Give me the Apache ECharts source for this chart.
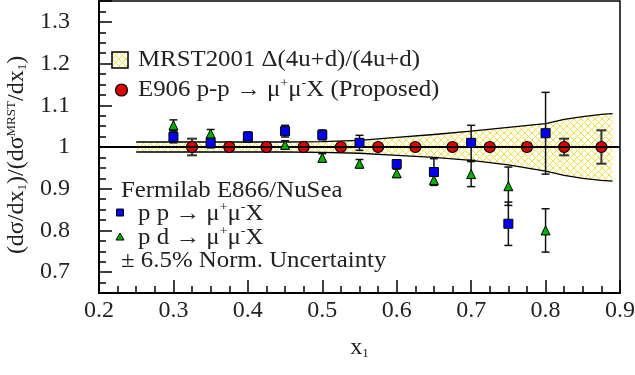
<!DOCTYPE html>
<html><head><meta charset="utf-8">
<script src="https://cdn.jsdelivr.net/npm/echarts@6/dist/echarts.min.js"></script>
<style>html,body{margin:0;padding:0;background:#fff}#c{width:635px;height:375px}</style>
</head><body><div id="c"></div>
<script>
// MRST2001 uncertainty band
const bandX     = [0.25, 0.30, 0.35, 0.40, 0.45, 0.50, 0.55, 0.60, 0.65, 0.70, 0.75, 0.80, 0.825, 0.85, 0.875, 0.89];
const bandUpper = [1.012,1.012,1.012,1.012,1.012,1.013,1.016,1.023,1.030,1.038,1.047,1.056,1.066,1.073,1.078,1.080];
const bandLower = [0.988,0.988,0.988,0.988,0.988,0.987,0.985,0.980,0.975,0.968,0.957,0.942,0.932,0.925,0.920,0.918];
// reference line
const refX = [0.2, 0.9];
const refY = [1, 1];
// E906 proposed
const e906X   = [0.325,0.375,0.425,0.475,0.525,0.575,0.625,0.675,0.725,0.775,0.825,0.875];
const e906Y   = [1,1,1,1,1,1,1,1,1,1,1,1];
const e906Err = [0.02,0.006,0.006,0.006,0.006,0.006,0.006,0.006,0.006,0.008,0.02,0.04];
// E866 p p
const ppX   = [0.30,0.35,0.40,0.45,0.50,0.55,0.60,0.65,0.70,0.75,0.80];
const ppY   = [1.024,1.010,1.025,1.038,1.029,1.010,0.959,0.940,1.010,0.816,1.033];
const ppErr = [0.014,0.012,0.011,0.014,0.012,0.018,0.010,0.032,0.042,0.052,0.098];
// E866 p d
const pdX   = [0.30,0.35,0.40,0.45,0.50,0.55,0.60,0.65,0.70,0.75,0.80];
const pdY   = [1.052,1.032,1.022,1.005,0.974,0.960,0.937,0.921,0.935,0.906,0.800];
const pdErr = [0.013,0.010,0.010,0.010,0.010,0.010,0.010,0.012,0.030,0.046,0.052];
// axes
const xMin = 0.2, xMax = 0.9, xStep = 0.1;
const yMin = 0.65, yMax = 1.35, yStep = 0.1, yMinorStep = 0.025;

const FONT = "'Liberation Serif', 'Times New Roman', serif";
const TXT = '#222';

function makeHatch(){
  const s = 7;
  const c = document.createElement('canvas'); c.width = s; c.height = s;
  const g = c.getContext('2d');
  g.fillStyle = '#fffff6'; g.fillRect(0,0,s,s);
  g.strokeStyle = '#eedd55'; g.lineWidth = 1;
  g.beginPath(); g.moveTo(0,0); g.lineTo(s,s); g.moveTo(s,0); g.lineTo(0,s); g.stroke();
  return c;
}
const hatch = makeHatch();

function errSeries(xs, ys, es, cap, color, lw, z){
  return {
    type:'custom', silent:true, z:z, yAxisIndex:0,
    data: xs.map((x,i)=>[x, ys[i]-es[i], ys[i]+es[i]]),
    encode:{x:0, y:[1,2]},
    renderItem:(p, api)=>{
      const x = api.value(0);
      const lo = api.coord([x, api.value(1)]);
      const hi = api.coord([x, api.value(2)]);
      const st = {stroke:color, lineWidth:lw};
      return {type:'group', children:[
        {type:'line', shape:{x1:lo[0],y1:lo[1],x2:hi[0],y2:hi[1]}, style:st},
        {type:'line', shape:{x1:lo[0]-cap,y1:lo[1],x2:lo[0]+cap,y2:lo[1]}, style:st},
        {type:'line', shape:{x1:hi[0]-cap,y1:hi[1],x2:hi[0]+cap,y2:hi[1]}, style:st}
      ]};
    }
  };
}

const richBase = {
  sup:{fontFamily:FONT, fontSize:13, lineHeight:12, verticalAlign:'top', fill:TXT, color:TXT},
  sub:{fontFamily:FONT, fontSize:13, lineHeight:12, verticalAlign:'bottom', fill:TXT, color:TXT}
};

function label(x, y, text){
  return {type:'text', x:x, y:y, z:10, scaleX:1.08,
    style:{text:text, fontFamily:FONT, fontSize:23, lineHeight:26, fill:TXT, verticalAlign:'middle', align:'left', rich:richBase}};
}

const chart = echarts.init(document.getElementById('c'), null, {renderer:'canvas'});
chart.setOption({
  animation:false,
  backgroundColor:'#fff',
  grid:{left:99, right:15, top:1, bottom:82, show:true, borderColor:'#000', borderWidth:1.5, backgroundColor:'transparent', containLabel:false, outerBoundsMode:'none'},
  xAxis:{
    type:'value', min:xMin, max:xMax, interval:xStep,
    axisLine:{lineStyle:{color:'#000', width:2}},
    axisTick:{inside:true, length:13, lineStyle:{color:'#000', width:1.5}},
    minorTick:{show:true, splitNumber:4, length:7, lineStyle:{color:'#000', width:1.5}},
    axisLabel:{fontFamily:FONT, fontSize:24, color:TXT, margin:6, formatter:v=>String(Math.round(v*10)/10)},
    splitLine:{show:false}, minorSplitLine:{show:false},
    name:'x{sub|1}', nameLocation:'middle', nameGap:43,
    nameTextStyle:{fontFamily:FONT, fontSize:24, color:TXT, rich:richBase}
  },
  yAxis:[{
    type:'value', min:yMin, max:yMax, minInterval:yStep, maxInterval:yStep,
    axisLine:{lineStyle:{color:'#000', width:2}},
    axisTick:{inside:true, length:13, lineStyle:{color:'#000', width:1.5}},
    axisLabel:{fontFamily:FONT, fontSize:24, color:TXT, margin:29,
      formatter:v=>{const r=Math.round(v*100)/100; if(Math.abs(r*10-Math.round(r*10))>1e-6) return ''; return r===1?'1':r.toFixed(1);}},
    splitLine:{show:false},
    name:'(dσ/dx{sub|1})/(dσ{sup|MRST}/dx{sub|1})', nameLocation:'middle', nameGap:62, nameRotate:90,
    nameTextStyle:{fontFamily:FONT, fontSize:24, color:TXT, rich:richBase, padding:[0,16,0,0]}
  },{
    type:'value', min:yMin, max:yMax, interval:yMinorStep, position:'left',
    axisLine:{show:false},
    axisTick:{inside:true, length:7, lineStyle:{color:'#000', width:1.5}},
    axisLabel:{show:false}, splitLine:{show:false}
  }],
  series:[
    {type:'custom', silent:true, z:1, yAxisIndex:0,
      data: bandX.map((x,i)=>[x, bandLower[i], bandUpper[i]]),
      encode:{x:0, y:[1,2]},
      renderItem:(p, api)=>{
        if(p.dataIndex!==0) return null;
        const up = bandX.map((x,i)=>api.coord([x, bandUpper[i]]));
        const lo = bandX.map((x,i)=>api.coord([x, bandLower[i]]));
        return {type:'group', children:[
          {type:'polygon', shape:{points:up.concat(lo.slice().reverse())}, style:{fill:{image:hatch, repeat:'repeat'}, stroke:null}},
          {type:'polyline', shape:{points:up}, style:{stroke:'#000', lineWidth:1.3, fill:null}},
          {type:'polyline', shape:{points:lo}, style:{stroke:'#000', lineWidth:1.3, fill:null}}
        ]};
      }
    },
    errSeries(e906X, e906Y, e906Err, 5, '#333', 2, 2),
    {type:'scatter', z:3, yAxisIndex:0, silent:true, symbol:'circle', symbolSize:11,
      data: e906X.map((x,i)=>[x, e906Y[i]]),
      itemStyle:{color:'#dd0000', borderColor:'#000', borderWidth:1.2, opacity:1}},
    {type:'line', z:4, yAxisIndex:0, silent:true, symbol:'none',
      data: refX.map((x,i)=>[x, refY[i]]), lineStyle:{color:'#000', width:2}},
    errSeries(ppX, ppY, ppErr, 4, '#111', 1.5, 5),
    errSeries(pdX, pdY, pdErr, 4, '#111', 1.5, 5),
    {type:'scatter', z:6, yAxisIndex:0, silent:true, symbol:'triangle', symbolSize:9,
      data: pdX.map((x,i)=>[x, pdY[i]]),
      itemStyle:{color:'#00b000', borderColor:'#000', borderWidth:1, opacity:1}},
    {type:'scatter', z:7, yAxisIndex:0, silent:true, symbol:'rect', symbolSize:9,
      data: ppX.map((x,i)=>[x, ppY[i]]),
      itemStyle:{color:'#0000ee', borderColor:'#000', borderWidth:1, opacity:1}}
  ],
  graphic:[
    {type:'rect', x:112, y:52, z:10, shape:{width:16, height:16}, style:{fill:{image:hatch, repeat:'repeat'}, stroke:'#000', lineWidth:1.5}},
    label(138, 60, 'MRST2001 Δ(4u+d)/(4u+d)'),
    {type:'circle', x:121.5, y:90, z:10, shape:{r:6}, style:{fill:'#dd0000', stroke:'#000', lineWidth:1.2}},
    label(138, 90, 'E906 p-p → μ{sup|+}μ{sup|-}X (Proposed)'),
    label(121, 191, 'Fermilab E866/NuSea'),
    {type:'rect', x:116.5, y:209, z:10, shape:{width:7, height:7}, style:{fill:'#0000ee', stroke:'#000', lineWidth:1}},
    label(138, 214, 'p p → μ{sup|+}μ{sup|-}X'),
    {type:'polygon', z:10, shape:{points:[[120,233],[124,240],[116,240]]}, style:{fill:'#00b000', stroke:'#000', lineWidth:1}},
    label(138, 238, 'p d → μ{sup|+}μ{sup|-}X'),
    label(121, 261, '± 6.5% Norm. Uncertainty')
  ]
});
</script></body></html>
